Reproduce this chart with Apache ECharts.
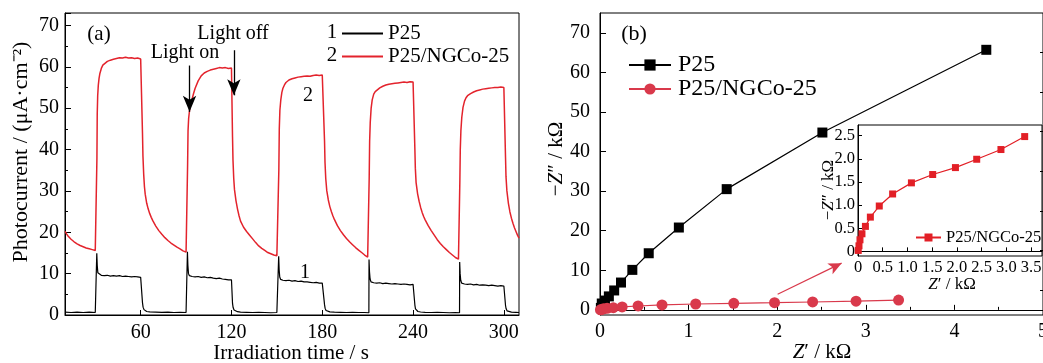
<!DOCTYPE html>
<html><head><meta charset="utf-8">
<script src="https://cdn.jsdelivr.net/npm/echarts@6/dist/echarts.min.js"></script>
<style>html,body{margin:0;padding:0;background:#fff}#c{width:1043px;height:363px}</style>
</head><body><div id="c"></div>
<script>
// ---------- tick labels ----------
const timeTicks = [60, 120, 180, 240, 300];
const zImTicks = [0, 10, 20, 30, 40, 50, 60, 70];
const zImMinorTicks = [5, 15, 25, 35, 45, 55, 65];
const insetXTicks = [0, 0.5, 1.0, 1.5, 2.0, 2.5, 3.0, 3.5];
const insetYTicks = [0, 0.5, 1.0, 1.5, 2.0, 2.5];

// ---------- (a) photocurrent vs time [t (s), I (uA/cm2)] ----------
const p25Photo = [
[10,0.7],[14,0.6],[18,0.7],[22,0.6],[26,0.7],[30,0.6],[30.9,0.6],
[31.0,14.9],[31.3,12.0],[31.7,10.2],[32.3,9.8],[34,9.6],[36,9.5],[38,9.6],[40,9.4],[42,9.5],[44,9.4],[46,9.5],[48,9.3],[50,9.4],[52,9.3],[54,9.2],[56,9.3],[58,9.2],[60,9.1],[61.0,9.2],
[61.2,3.0],[61.6,1.9],[62.2,1.3],[63,1.0],[64,0.85],[66,0.75],[70,0.7],[74,0.65],[78,0.7],[82,0.6],[86,0.65],[90,0.6],[90.8,0.6],
[90.9,15.3],[91.2,12.0],[91.6,10.0],[92.2,9.5],[94,9.3],[96,9.2],[98,9.3],[100,9.1],[102,9.2],[104,9.0],[106,9.1],[108,8.9],[110,8.8],[112,8.9],[114,8.7],[116,8.6],[118,8.5],[120,8.5],[120.5,8.4],
[120.7,2.8],[121.1,1.8],[121.7,1.2],[122.5,0.95],[124,0.8],[126,0.7],[130,0.65],[134,0.6],[138,0.65],[142,0.6],[146,0.55],[150,0.6],[151.1,0.6],
[151.2,14.2],[151.5,11.0],[151.9,9.2],[152.5,8.6],[154,8.4],[156,8.3],[158,8.4],[160,8.2],[162,8.3],[164,8.1],[166,8.2],[168,8.0],[170,8.0],[172,7.9],[174,7.8],[176,7.9],[178,7.7],[180,7.7],[181.3,7.6],
[181.5,2.5],[181.9,1.6],[182.5,1.1],[183.5,0.85],[185,0.75],[188,0.7],[192,0.65],[196,0.6],[200,0.65],[204,0.6],[208,0.6],[210.8,0.55],
[210.9,13.4],[211.2,10.5],[211.6,8.7],[212.2,8.0],[214,7.8],[216,7.7],[218,7.8],[220,7.6],[222,7.7],[224,7.6],[226,7.5],[228,7.6],[230,7.5],[232,7.4],[234,7.5],[236,7.4],[238,7.3],[240,7.4],[241.0,7.3],
[241.2,2.4],[241.6,1.5],[242.2,1.1],[243.2,0.85],[245,0.72],[248,0.65],[252,0.6],[256,0.65],[260,0.6],[264,0.55],[268,0.6],[270.7,0.55],
[270.8,12.8],[271.1,10.0],[271.5,8.4],[272.1,7.7],[274,7.5],[276,7.4],[278,7.5],[280,7.3],[282,7.4],[284,7.2],[286,7.3],[288,7.2],[290,7.1],[292,7.2],[294,7.1],[296,7.0],[298,7.1],[300,7.0],[300.9,7.0],
[301.1,2.3],[301.5,1.5],[302.1,1.0],[303,0.8],[305,0.7],[308,0.65],[310,0.6]
];
const ngcoPhoto = [
[10,20.2],[11,19.6],[12,19.1],[13,18.7],[14,18.3],[15,18.0],[16,17.7],[17,17.5],[18,17.2],[19,17.0],[20,16.8],[21,16.7],[22,16.5],[23,16.4],[24,16.2],[25,16.1],[26,16.0],[27,15.9],[28,15.8],[29,15.7],[30,15.6],[31.0,15.5],
[31.1,38.0],[31.3,48.5],[31.6,53.0],[32,55.5],[32.5,57.2],[33,58.3],[34,59.6],[35,60.4],[36,60.8],[38,61.3],[40,61.6],[42,61.8],[44,62.0],[46,62.2],[48,62.1],[50,62.3],[52,62.1],[54,62.2],[56,62.0],[58,62.1],[60,61.9],[61.0,62.0],
[61.2,44.0],[61.5,38.5],[62,34.0],[62.5,31.0],[63,29.2],[64,27.0],[65,25.6],[66,24.5],[67,23.6],[68,22.8],[70,21.5],[72,20.4],[74,19.5],[76,18.7],[78,18.0],[80,17.4],[82,16.9],[84,16.4],[86,16.0],[88,15.5],[90,15.2],[90.8,15.0],
[91.0,36.0],[91.3,44.5],[91.7,47.5],[92.3,49.5],[93,50.8],[94,52.2],[95,53.6],[96,54.8],[98,56.6],[100,57.8],[102,58.5],[104,58.9],[106,59.2],[108,59.4],[110,59.6],[112,59.8],[114,59.7],[116,59.8],[118,59.6],[120,59.7],[120.5,59.6],
[120.7,43.0],[121.0,37.5],[121.5,33.0],[122,30.3],[123,27.6],[124,25.6],[125,24.0],[126,22.7],[128,21.2],[130,20.2],[132,19.3],[134,18.4],[136,17.5],[138,16.7],[140,16.1],[142,15.6],[144,15.1],[146,14.8],[148,14.5],[150,14.3],[151.1,14.2],
[151.3,35.0],[151.6,45.0],[152,49.5],[152.6,52.0],[153.3,53.8],[154,54.8],[155,55.6],[156,56.2],[158,56.8],[160,57.1],[162,57.3],[164,57.5],[166,57.6],[168,57.7],[170,57.8],[172,57.7],[174,57.9],[176,58.0],[178,57.9],[180,58.0],[181.3,57.9],
[181.5,42.0],[181.8,37.0],[182.3,33.0],[183,30.0],[184,27.8],[185,26.2],[186,25.0],[187,24.0],[188,23.1],[190,21.6],[192,20.4],[194,19.4],[196,18.5],[198,17.7],[200,17.0],[202,16.3],[204,15.7],[206,15.1],[208,14.5],[210,14.0],[210.8,13.7],
[211.0,33.0],[211.3,42.0],[211.7,46.5],[212.3,50.0],[213,52.0],[214,53.4],[215,54.0],[216,54.4],[218,54.9],[220,55.3],[222,55.6],[224,55.8],[226,55.9],[228,56.0],[230,56.1],[232,56.2],[234,56.3],[236,56.2],[238,56.4],[240,56.3],[241.0,56.3],
[241.2,40.0],[241.5,35.5],[242,32.0],[243,29.3],[244,27.5],[245,26.0],[246,24.8],[247,23.8],[248,23.0],[250,21.6],[252,20.4],[254,19.3],[256,18.2],[258,17.3],[260,16.5],[262,15.8],[264,15.1],[266,14.5],[268,13.9],[270,13.5],[270.7,13.3],
[270.9,32.0],[271.2,40.0],[271.6,44.5],[272.2,47.8],[273,50.2],[274,51.7],[275,52.5],[276,53.0],[278,53.5],[280,53.9],[282,54.2],[284,54.4],[286,54.6],[288,54.7],[290,54.8],[292,54.9],[294,55.0],[296,55.0],[298,55.1],[300,55.0],[300.9,55.0],
[301.1,38.0],[301.4,33.5],[302,30.0],[303,27.0],[304,24.9],[305,23.4],[306,22.2],[307,21.1],[308,20.2],[309,19.3],[310,18.6]
];

// ---------- (b) Nyquist data [Z' (kOhm), -Z'' (kOhm)] ----------
const p25EIS = [
[0.01,0.5],[0.02,1.6],[0.056,2.35],[0.10,3.4],[0.16,4.9],[0.237,6.9],[0.365,10.1],[0.55,14.3],[0.89,20.8],[1.43,30.5],[2.51,44.8],[4.36,65.7]
];
const ngcoEIS = [
[0.005,0.02],[0.02,0.12],[0.04,0.25],[0.08,0.38],[0.15,0.54],[0.25,0.74],[0.43,0.98],[0.70,1.24],[1.08,1.48],[1.51,1.66],[1.97,1.81],[2.40,1.99],[2.89,2.20],[3.37,2.48]
];

const FF = '"Liberation Serif", "Times New Roman", serif';
const RED = '#e3232c';
const RED_B = '#d9394b';
const RED_IN = '#e21f26';
const names = {a1:'P25', a2:'P25/NGCo-25', b1:'P25', b2:'P25/NGCo-25', c1:'P25/NGCo-25'};

const txt = (o) => ({fill:'#000', fontFamily:FF, align:'center', verticalAlign:'middle', textAlign:'center', textVerticalAlign:'middle', ...o});
const lbl = (size, extra) => Object.assign({color:'#000', fontFamily:FF, fontSize:size}, extra || {});

const chart = echarts.init(document.getElementById('c'), null, {renderer:'canvas'});
chart.setOption({
  animation:false,
  backgroundColor:'#fff',
  grid:[
    {left:65, top:13, width:454, height:302, show:true, borderColor:'#000', borderWidth:1, backgroundColor:'transparent', outerBoundsMode:'none', containLabel:false},
    {left:600, top:13, width:443, height:302, show:true, borderColor:'#000', borderWidth:1, backgroundColor:'transparent', outerBoundsMode:'none', containLabel:false},
    {left:858, top:125, width:184, height:131, show:true, borderColor:'#000', borderWidth:1, backgroundColor:'#fff', outerBoundsMode:'none', containLabel:false}
  ],
  xAxis:[
    {gridIndex:0, type:'value', min:10, max:310,
     axisLine:{lineStyle:{color:'#000', width:1}},
     axisTick:{inside:true, length:5, customValues:timeTicks, lineStyle:{color:'#000'}},
     axisLabel:lbl(20, {customValues:timeTicks, margin:8}),
     splitLine:{show:false}},
    {gridIndex:1, type:'value', min:0, max:5, interval:1,
     axisLine:{lineStyle:{color:'#000', width:1}},
     axisTick:{inside:true, length:5, lineStyle:{color:'#000'}},
     minorTick:{show:true, splitNumber:2, length:3, lineStyle:{color:'#000'}},
     axisLabel:lbl(20, {margin:7, showMaxLabel:true, showMinLabel:true}),
     splitLine:{show:false}},
    {gridIndex:2, type:'value', min:0, max:3.72,
     axisLine:{lineStyle:{color:'#000', width:1}},
     axisTick:{inside:true, length:4, customValues:insetXTicks, lineStyle:{color:'#000'}},
     axisLabel:lbl(16.5, {customValues:insetXTicks, margin:3, formatter:v => v === 0 ? '0' : v.toFixed(1)}),
     splitLine:{show:false}}
  ],
  yAxis:[
    {gridIndex:0, type:'value', min:0, max:73, interval:10,
     axisLine:{lineStyle:{color:'#000', width:1}},
     axisTick:{inside:true, length:6, lineStyle:{color:'#000'}},
     minorTick:{show:true, splitNumber:2, length:3, lineStyle:{color:'#000'}},
     axisLabel:lbl(20, {margin:6, padding:[4,0,0,0]}),
     splitLine:{show:false}},
    {gridIndex:1, type:'value', min:-1.3, max:75,
     axisLine:{lineStyle:{color:'#000', width:1}},
     axisTick:{inside:true, length:6, customValues:zImTicks, lineStyle:{color:'#000'}},
     axisLabel:lbl(20, {customValues:zImTicks, margin:10, padding:[2,0,0,0]}),
     splitLine:{show:false}},
    {gridIndex:1, type:'value', min:-1.3, max:75,
     axisLine:{show:false},
     axisTick:{inside:true, length:3, customValues:zImMinorTicks, lineStyle:{color:'#000'}},
     axisLabel:{show:false},
     splitLine:{show:false}},
    {gridIndex:2, type:'value', min:-0.1, max:2.73,
     axisLine:{lineStyle:{color:'#000', width:1}},
     axisTick:{inside:true, length:4, customValues:insetYTicks, lineStyle:{color:'#000'}},
     axisLabel:lbl(16.5, {customValues:insetYTicks, margin:3, formatter:v => v === 0 ? '0' : v.toFixed(1)}),
     splitLine:{show:false}}
  ],
  legend:[
    {data:['a1','a2'], orient:'vertical', left:341, top:23, padding:0, itemWidth:41, itemHeight:12, itemGap:2,
     itemStyle:{opacity:0},
     formatter:n => names[n], textStyle:lbl(21), selectedMode:false},
    {data:['b1','b2'], orient:'vertical', left:628, top:53, padding:0, itemWidth:42, itemHeight:14, itemGap:0,
     formatter:n => names[n], textStyle:lbl(24, {padding:[0,0,0,2]}), selectedMode:false},
    {data:['c1'], orient:'vertical', left:915, top:229, padding:0, itemWidth:25, itemHeight:10, itemGap:0,
     formatter:n => names[n], textStyle:lbl(16.5), selectedMode:false}
  ],
  series:[
    {name:'a1', type:'line', xAxisIndex:0, yAxisIndex:0, data:p25Photo, symbol:'none', color:'#000',
     lineStyle:{color:'#000', width:1.2},
     markLine:{silent:true, symbol:['none','arrow'], symbolSize:[10,16], label:{show:false},
       lineStyle:{color:'#000', width:1.3, type:'solid'},
       data:[[{coord:[92.3,60.3]},{coord:[92.3,49.1]}],[{coord:[121.6,64.0]},{coord:[121.6,53.1]}]]}},
    {name:'a2', type:'line', xAxisIndex:0, yAxisIndex:0, data:ngcoPhoto, symbol:'none', color:RED,
     lineStyle:{color:RED, width:1.5}},
    {name:'b1', type:'line', xAxisIndex:1, yAxisIndex:1, data:p25EIS, symbol:'rect', symbolSize:10, color:'#000',
     lineStyle:{color:'#000', width:1.2}, itemStyle:{color:'#000'}},
    {name:'b2', type:'line', xAxisIndex:1, yAxisIndex:1, data:ngcoEIS, symbol:'circle', symbolSize:11, color:RED_B,
     lineStyle:{color:RED_B, width:1.2}, itemStyle:{color:RED_B},
     markLine:{silent:true, symbol:['none','arrow'], symbolSize:[9,13], label:{show:false},
       lineStyle:{color:RED_B, width:1.2, type:'solid'},
       data:[[{coord:[2.005,3.96]},{coord:[2.727,11.8]}]]}},
    {name:'c1', type:'line', xAxisIndex:2, yAxisIndex:3, data:ngcoEIS, symbol:'rect', symbolSize:7, color:RED_IN,
     lineStyle:{color:RED_IN, width:1.2}, itemStyle:{color:RED_IN}}
  ],
  graphic:[
    {type:'text', x:21, y:152, rotation:Math.PI/2, style:txt({text:'Photocurrent / (μA·cm⁻²)', fontSize:22})},
    {type:'text', x:291, y:353, style:txt({text:'Irradiation time / s', fontSize:21})},
    {type:'text', x:556, y:159, rotation:Math.PI/2, style:txt({text:'−{i|Z}″ / kΩ', fontSize:21,
      rich:{i:{fontStyle:'italic', fontSize:21, fontFamily:FF, fill:'#000'}}})},
    {type:'text', x:822, y:352, style:txt({text:'{i|Z}′ / kΩ', fontSize:21,
      rich:{i:{fontStyle:'italic', fontSize:21, fontFamily:FF, fill:'#000'}}})},
    {type:'text', x:829, y:190, rotation:Math.PI/2, style:txt({text:'−{i|Z}″ / kΩ', fontSize:17,
      rich:{i:{fontStyle:'italic', fontSize:17, fontFamily:FF, fill:'#000'}}})},
    {type:'text', x:952, y:285, style:txt({text:'{i|Z}′ / kΩ', fontSize:17,
      rich:{i:{fontStyle:'italic', fontSize:17, fontFamily:FF, fill:'#000'}}})},
    {type:'text', x:99, y:34, style:txt({text:'(a)', fontSize:21})},
    {type:'text', x:634, y:34, style:txt({text:'(b)', fontSize:22})},
    {type:'text', x:185, y:53, style:txt({text:'Light on', fontSize:20})},
    {type:'text', x:233, y:34, style:txt({text:'Light off', fontSize:20})},
    {type:'text', x:308, y:96, style:txt({text:'2', fontSize:20})},
    {type:'text', x:305, y:273, style:txt({text:'1', fontSize:20})},
    {type:'text', x:332, y:32, style:txt({text:'1', fontSize:21})},
    {type:'text', x:332, y:55, style:txt({text:'2', fontSize:21})}
  ]
});
</script></body></html>
